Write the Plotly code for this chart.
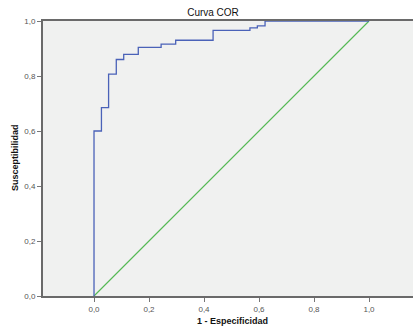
import plotly.graph_objects as go

# ROC curve corner points (false positive rate vs. sensitivity)
fpr = [0.0, 0.0, 0.027, 0.053, 0.081, 0.108, 0.161, 0.244, 0.297, 0.433, 0.567, 0.594, 0.622, 1.0]
tpr = [0.0, 0.600, 0.685, 0.807, 0.860, 0.879, 0.904, 0.916, 0.930, 0.966, 0.975, 0.982, 1.0, 1.0]

# Reference diagonal (chance line)
ref_x = [0.0, 1.0]
ref_y = [0.0, 1.0]

tick_vals = [0.0, 0.2, 0.4, 0.6, 0.8, 1.0]
tick_text = ["0,0", "0,2", "0,4", "0,6", "0,8", "1,0"]

fig = go.Figure()
fig.add_trace(go.Scatter(x=ref_x, y=ref_y, mode="lines",
                         line=dict(color="#55b955", width=1.2),
                         hoverinfo="skip", showlegend=False))
fig.add_trace(go.Scatter(x=fpr, y=tpr, mode="lines", line_shape="hv",
                         line=dict(color="#4a62b8", width=1.3),
                         showlegend=False))

font_main = "Liberation Sans, Arial, sans-serif"

fig.update_layout(
    width=413, height=329,
    margin=dict(l=43, r=0, t=21, b=33),
    paper_bgcolor="white",
    plot_bgcolor="#f0f1f0",
    font=dict(family=font_main, size=8, color="#555555"),
    title=dict(text="Curva COR", x=213 / 413, xanchor="center",
               xref="container", yref="container", y=1 - 12 / 329,
               yanchor="middle", font=dict(size=10, color="#111111")),
    xaxis=dict(range=[-0.1855, 1.16], tickvals=tick_vals, ticktext=tick_text,
               showgrid=False, zeroline=False, showline=True, mirror=True,
               linecolor="#6a6a6a", linewidth=2, ticks="outside", ticklen=4,
               tickcolor="#777777", tickfont=dict(size=8, color="#555555")),
    yaxis=dict(range=[0, 1], tickvals=tick_vals, ticktext=tick_text,
               showgrid=False, zeroline=False, showline=True,
               linecolor="#6a6a6a", linewidth=2, ticks="outside", ticklen=4,
               tickcolor="#777777", tickfont=dict(size=8, color="#555555")),
    annotations=[
        dict(text="<b>1 - Especificidad</b>", xref="paper", yref="paper",
             x=(232 - 43) / 370, y=(296 - 321) / 275, showarrow=False,
             xanchor="center", yanchor="middle",
             font=dict(size=9, color="#111111")),
        dict(text="<b>Susceptibilidad</b>", xref="paper", yref="paper",
             x=(15 - 43) / 370, y=(296 - 158) / 275, showarrow=False,
             textangle=-90, xanchor="center", yanchor="middle",
             font=dict(size=9, color="#111111")),
    ],
)

fig.write_html("out.html")
